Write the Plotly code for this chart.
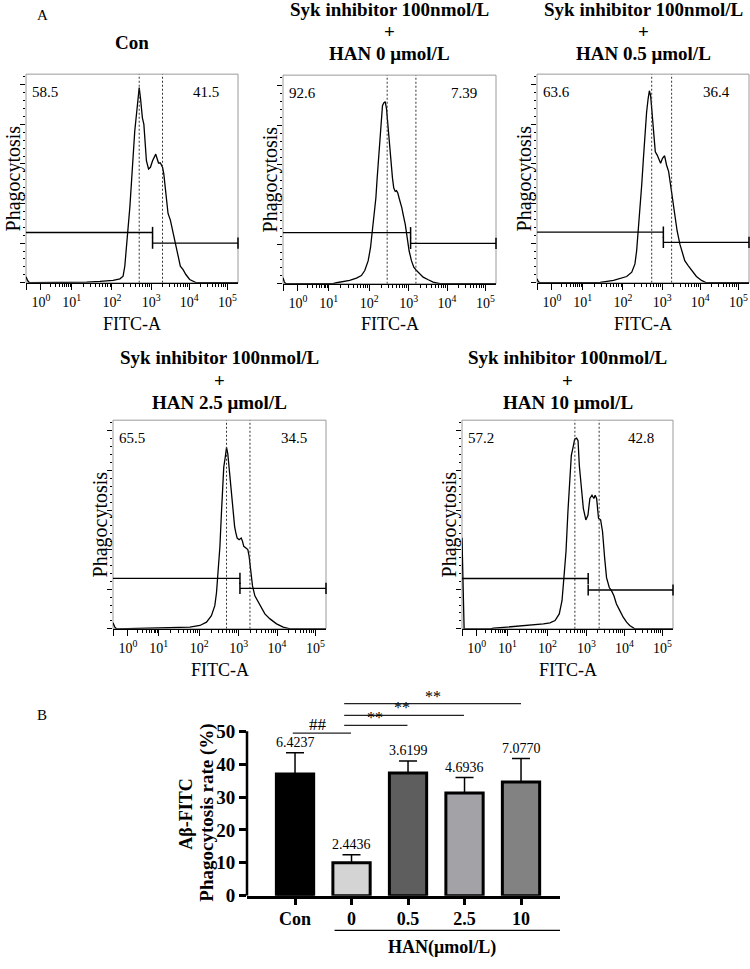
import math
import plotly.graph_objects as go

W, H = 750, 969
FONT = "Liberation Serif"

# ---------------- data: flow cytometry histograms ----------------
# FITC-A position expressed in display channels (0-1000, biexponential display)
decade_channel = [70, 215, 405, 590, 770, 950]
decade_label = ["10<sup>0</sup>", "10<sup>1</sup>", "10<sup>2</sup>",
                "10<sup>3</sup>", "10<sup>4</sup>", "10<sup>5</sup>"]

con_x = [0, 8, 16, 254, 286, 349, 411, 443, 458, 466, 474, 482, 490, 498, 505, 513, 521, 529, 534,
         540, 549, 556, 562, 568, 578, 587, 597, 606, 612, 619, 625, 634, 644, 650, 656, 662, 670,
         681, 694, 706, 719, 728, 741, 754, 772, 804, 1000]
con_y = [0.15, 0.05, 0, 0, 0.017, 0.033, 0.058, 0.1, 0.167, 0.417, 0.917, 1.333, 1.917, 2.583, 3.25,
         3.833, 4.25, 4.583, 4.933, 4.667, 4.167, 4.0, 3.583, 3.083, 2.875, 2.917, 3.083, 3.208, 3.25,
         3.125, 3.025, 3.025, 2.917, 2.75, 2.417, 2.083, 1.75, 1.583, 1.25, 0.917, 0.583, 0.417,
         0.333, 0.208, 0.083, 0, 0]

han0_x = [0, 6, 13, 235, 251, 313, 345, 368, 384, 400, 411, 420, 426, 436, 442, 448, 455, 461, 467,
          473, 480, 486, 492, 498, 505, 514, 520, 527, 533, 539, 545, 552, 558, 564, 574, 583, 592,
          603, 614, 627, 643, 658, 682, 705, 737, 1000]
han0_y = [0.15, 0.05, 0, 0, 0.025, 0.083, 0.142, 0.208, 0.333, 0.583, 0.917, 1.333, 1.667, 2.167,
          2.667, 3.167, 3.667, 4.167, 4.5, 4.567, 4.6, 4.417, 4.0, 3.583, 3.083, 2.667, 2.417, 2.333,
          2.35, 2.292, 2.167, 2.042, 1.917, 1.75, 1.5, 1.167, 0.833, 0.583, 0.417, 0.333, 0.25,
          0.167, 0.1, 0.042, 0, 0]

han05_x = [0, 6, 13, 298, 361, 392, 423, 447, 462, 470, 478, 486, 494, 502, 509, 517, 524, 530, 536,
           542, 549, 558, 567, 577, 583, 592, 602, 611, 621, 630, 639, 650, 661, 674, 687, 697, 713,
           729, 752, 776, 799, 1000]
han05_y = [0.1, 0.03, 0, 0.008, 0.058, 0.1, 0.158, 0.267, 0.475, 0.808, 1.308, 1.808, 2.475, 3.142,
           3.808, 4.308, 4.642, 4.85, 4.725, 4.392, 3.808, 3.308, 3.225, 3.1, 3.017, 3.142, 3.208,
           2.975, 2.808, 2.475, 2.142, 1.725, 1.308, 0.975, 0.725, 0.558, 0.433, 0.308, 0.158,
           0.058, 0, 0]

han25_x = [0, 8, 16, 266, 361, 408, 439, 462, 478, 486, 494, 502, 509, 514, 520, 527, 533, 539, 545,
           552, 558, 564, 571, 577, 583, 592, 602, 608, 614, 624, 633, 639, 646, 655, 666, 682, 697,
           713, 737, 768, 799, 831, 1000]
han25_y = [0.15, 0.05, 0, 0.017, 0.042, 0.083, 0.167, 0.333, 0.583, 0.917, 1.417, 2.083, 2.917,
           3.583, 4.083, 4.333, 4.583, 4.417, 4.083, 3.75, 3.25, 2.917, 2.583, 2.417, 2.292, 2.25,
           2.292, 2.208, 2.083, 2.042, 2.0, 1.833, 1.5, 1.083, 0.833, 0.667, 0.5, 0.375, 0.25,
           0.125, 0.042, 0, 0]

han10_x = [0, 4, 10, 134, 150, 213, 276, 323, 354, 386, 417, 441, 461, 474, 483, 493, 502, 512, 518,
           528, 534, 543, 550, 556, 565, 575, 587, 597, 606, 616, 625, 631, 638, 647, 657, 666, 676,
           685, 698, 709, 720, 732, 748, 764, 780, 795, 819, 1000]
han10_y = [2.3, 1.2, 0, 0, 0.017, 0.042, 0.067, 0.1, 0.1, 0.125, 0.15, 0.208, 0.375, 0.708, 1.292,
           1.958, 2.958, 3.958, 4.375, 4.625, 4.792, 4.817, 4.75, 4.125, 3.542, 3.042, 2.75, 2.875,
           3.292, 3.375, 3.292, 3.375, 3.292, 2.792, 2.75, 2.458, 1.792, 1.292, 1.042, 0.958, 0.833,
           0.625, 0.458, 0.292, 0.167, 0.083, 0, 0]

hist_x = [con_x, han0_x, han05_x, han25_x, han10_x]
hist_y = [con_y, han0_y, han05_y, han25_y, han10_y]
panel_titles = [["Con"],
                ["Syk inhibitor 100nmol/L", "+", "HAN 0 μmol/L"],
                ["Syk inhibitor 100nmol/L", "+", "HAN 0.5 μmol/L"],
                ["Syk inhibitor 100nmol/L", "+", "HAN 2.5 μmol/L"],
                ["Syk inhibitor 100nmol/L", "+", "HAN 10 μmol/L"]]
left_pct = ["58.5", "92.6", "63.6", "65.5", "57.2"]
right_pct = ["41.5", "7.39", "36.4", "34.5", "42.8"]
gate_split = [597, 599, 596, 596, 598]
gate_left_level = [1.27, 1.29, 1.28, 1.275, 1.27]
gate_right_level = [1.0, 1.02, 1.02, 1.02, 0.98]
marker_lines = [[534, 644], [489, 624], [541, 635], [533, 643], [535, 650]]
hist_ymax = 5.27
hist_yticks = [0, 1, 2, 3, 4, 5]

# ---------------- data: bar chart ----------------
bar_categories = ["Con", "0", "0.5", "2.5", "10"]
bar_means = [37.0, 10.0, 37.3, 31.2, 34.6]
bar_sd = [6.4237, 2.4436, 3.6199, 4.6936, 7.0770]
bar_sd_labels = ["6.4237", "2.4436", "3.6199", "4.6936", "7.0770"]
bar_yticks = [0, 10, 20, 30, 40, 50]
# significance brackets: (from category, to category, level, label)
sig_from = [-0.04, 0.87, 0.87, 0.87]
sig_to = [0.99, 1.99, 2.99, 4.0]
sig_level = [49.4, 51.8, 54.8, 58.4]
sig_text = ["##", "**", "**", "**"]
sig_text_x = [0.4, 1.42, 1.89, 2.45]

# ---------------- styles / layout ----------------
bar_colors = ["#000000", "#d4d4d4", "#5e5e5e", "#a2a2a7", "#828282"]
hist_frames = [(26, 238, 75, 286), (283, 496, 76, 287), (537, 749, 75, 286),
               (113, 326, 425, 636), (462, 673, 425, 636)]
title_rows = [[10, 32, 54], [362, 385, 407]]
con_title_y = 43
fitc_y = [328, 678]
bar_box = (247, 560, 703, 906)  # left, right, top(px of y=61), bottom (y=0)


def px_x(p):
    return p / W


def px_y(p):
    return 1 - p / H


fig = go.Figure()
annotations = []
shapes = []
layout_axes = {}

minor_x = []
for i in range(len(decade_channel) - 1):
    a, b = decade_channel[i], decade_channel[i + 1]
    for k in range(2, 10):
        minor_x.append(a + math.log10(k) * (b - a))

for p in range(5):
    n = "" if p == 0 else str(p + 1)
    xa, ya = "x" + n, "y" + n
    l, r, t, b = hist_frames[p]
    row = 0 if p < 3 else 1
    layout_axes["xaxis" + n] = dict(
        domain=[px_x(l), px_x(r)], anchor=ya, range=[0, 1000], showgrid=False, zeroline=False,
        showline=True, linecolor="black", linewidth=1, ticks="outside", ticklen=6, tickwidth=1,
        tickcolor="black", tickmode="array", tickvals=[0] + decade_channel, ticktext=[""] + decade_label,
        tickfont=dict(family=FONT, size=14, color="black"),
        minor=dict(tickmode="array", tickvals=minor_x, ticks="outside", ticklen=3, tickwidth=1,
                   tickcolor="black"),
        fixedrange=True)
    layout_axes["yaxis" + n] = dict(
        domain=[px_y(b), px_y(t)], anchor=xa, range=[0, hist_ymax], showgrid=False, zeroline=False,
        showline=False, ticks="outside", ticklen=5, tickwidth=1, tickcolor="black",
        tickmode="array", tickvals=hist_yticks, showticklabels=False,
        minor=dict(dtick=0.2, tick0=0, ticks="outside", ticklen=2.5, tickwidth=1, tickcolor="black"),
        fixedrange=True)
    # frame
    shapes.append(dict(type="rect", xref=xa + " domain", yref=ya + " domain", x0=0, x1=1, y0=0, y1=1,
                       line=dict(color="#9a9a9a", width=1), layer="below"))
    # histogram
    fig.add_trace(go.Scatter(x=hist_x[p], y=hist_y[p], mode="lines", xaxis=xa, yaxis=ya,
                             line=dict(color="black", width=1.3), showlegend=False, hoverinfo="skip"))
    # dotted marker lines
    for m in marker_lines[p]:
        fig.add_trace(go.Scatter(x=[m, m], y=[0, hist_ymax], mode="lines", xaxis=xa, yaxis=ya,
                                 line=dict(color="#333333", width=1, dash="2px,2px"),
                                 showlegend=False, hoverinfo="skip"))
    # gates
    s = gate_split[p]
    fig.add_trace(go.Scatter(x=[0, s], y=[gate_left_level[p]] * 2, mode="lines", xaxis=xa, yaxis=ya,
                             line=dict(color="black", width=1.3), showlegend=False, hoverinfo="skip"))
    fig.add_trace(go.Scatter(x=[s, 1000], y=[gate_right_level[p]] * 2, mode="lines", xaxis=xa, yaxis=ya,
                             line=dict(color="black", width=1.3), showlegend=False, hoverinfo="skip"))
    fig.add_trace(go.Scatter(x=[s, s, 1000], y=[gate_left_level[p], gate_right_level[p], gate_right_level[p]],
                             mode="markers", xaxis=xa, yaxis=ya, cliponaxis=False,
                             marker=dict(symbol="line-ns-open", size=8, color="black",
                                         line=dict(color="black", width=1.5)),
                             showlegend=False, hoverinfo="skip"))
    # percentages
    annotations.append(dict(x=20, y=4.83, xref=xa, yref=ya, text=left_pct[p], showarrow=False,
                            xanchor="left", yanchor="middle", font=dict(family=FONT, size=15, color="black")))
    annotations.append(dict(x=920, y=4.83, xref=xa, yref=ya, text=right_pct[p], showarrow=False,
                            xanchor="right", yanchor="middle", font=dict(family=FONT, size=15, color="black")))
    # titles
    cx = (l + r) / 2
    if p == 0:
        annotations.append(dict(x=px_x(cx), y=px_y(con_title_y), xref="paper", yref="paper",
                                text="<b>" + panel_titles[p][0] + "</b>", showarrow=False,
                                xanchor="center", yanchor="middle",
                                font=dict(family=FONT, size=19, color="black")))
    else:
        for line_txt, ly in zip(panel_titles[p], title_rows[row]):
            annotations.append(dict(x=px_x(cx), y=px_y(ly), xref="paper", yref="paper",
                                    text="<b>" + line_txt + "</b>", showarrow=False,
                                    xanchor="center", yanchor="middle",
                                    font=dict(family=FONT, size=19, color="black")))
    # axis titles
    annotations.append(dict(x=px_x(cx), y=px_y(fitc_y[row]), xref="paper", yref="paper", text="FITC-A",
                            showarrow=False, xanchor="center", yanchor="middle",
                            font=dict(family=FONT, size=18, color="black")))
    annotations.append(dict(x=px_x(l - 13), y=px_y((t + b) / 2), xref="paper", yref="paper",
                            text="Phagocytosis", textangle=-90, showarrow=False,
                            xanchor="center", yanchor="middle",
                            font=dict(family=FONT, size=20, color="black")))

# panel letters
annotations.append(dict(x=px_x(42), y=px_y(15), xref="paper", yref="paper", text="A", showarrow=False,
                        xanchor="center", yanchor="middle", font=dict(family=FONT, size=15, color="black")))
annotations.append(dict(x=px_x(42), y=px_y(723), xref="paper", yref="paper", text="B", showarrow=False,
                        xanchor="center", yanchor="middle", font=dict(family=FONT, size=15, color="black")))

# ---------------- bar chart ----------------
bl, br, bt, bb = bar_box
xpos = list(range(len(bar_categories)))
fig.add_trace(go.Bar(x=xpos, y=bar_means, xaxis="x6", yaxis="y6", width=0.66,
                     marker=dict(color=bar_colors, line=dict(color="black", width=3)),
                     error_y=dict(type="data", array=bar_sd, arrayminus=[0] * len(bar_sd), symmetric=False,
                                  color="black", thickness=1.5, width=9),
                     showlegend=False, hoverinfo="skip"))
layout_axes["xaxis6"] = dict(
    domain=[px_x(bl), px_x(br)], anchor="y6", range=[-0.85, 4.69], showgrid=False, zeroline=False,
    showline=True, linecolor="black", linewidth=2.5, ticks="outside", ticklen=7, tickwidth=2.5,
    tickcolor="black", tickmode="array", tickvals=xpos,
    ticktext=["<b>" + c + "</b>" for c in bar_categories],
    tickfont=dict(family=FONT, size=18, color="black"), ticklabelstandoff=-2, fixedrange=True)
layout_axes["yaxis6"] = dict(
    domain=[px_y(bb), px_y(bt)], anchor="x6", range=[0, 61], showgrid=False, zeroline=False,
    showline=False, ticks="outside", ticklen=7, tickwidth=2.5, tickcolor="black",
    tickmode="array", tickvals=bar_yticks, ticktext=["<b>%d</b>" % v for v in bar_yticks],
    tickfont=dict(family=FONT, size=19, color="black"), fixedrange=True)
shapes.append(dict(type="line", xref="x6 domain", yref="y6", x0=0, x1=0, y0=0, y1=50,
                   line=dict(color="black", width=2.5)))
for i in xpos:
    annotations.append(dict(x=i, y=bar_means[i] + bar_sd[i], xref="x6", yref="y6", text=bar_sd_labels[i],
                            showarrow=False, xanchor="center", yanchor="bottom", yshift=1,
                            font=dict(family=FONT, size=14, color="black")))
for a, b_, lv, tx, txx in zip(sig_from, sig_to, sig_level, sig_text, sig_text_x):
    shapes.append(dict(type="line", xref="x6", yref="y6", x0=a, x1=b_, y0=lv, y1=lv,
                       line=dict(color="#222222", width=1.2)))
    annotations.append(dict(x=txx, y=lv, xref="x6", yref="y6", text=tx, showarrow=False,
                            xanchor="center", yanchor="bottom", yshift=-3,
                            font=dict(family=FONT, size=17 if tx == "##" else 16, color="black")))
# HAN underline + label
shapes.append(dict(type="line", xref="x6", yref="paper", x0=0.7, x1=4.69, y0=px_y(941), y1=px_y(941),
                   line=dict(color="black", width=1.2)))
annotations.append(dict(x=2.6, y=px_y(958), xref="x6", yref="paper", text="<b>HAN(μmol/L)</b>",
                        showarrow=False, xanchor="center", yanchor="middle",
                        font=dict(family=FONT, size=18, color="black")))
annotations.append(dict(x=px_x(186), y=px_y(824), xref="paper", yref="paper", text="<b>Aβ-FITC</b>",
                        textangle=-90, showarrow=False, xanchor="center", yanchor="middle",
                        font=dict(family=FONT, size=18, color="black")))
annotations.append(dict(x=px_x(207), y=px_y(822), xref="paper", yref="paper",
                        text="<b>Phagocytosis rate (%)</b>", textangle=-90, showarrow=False,
                        xanchor="center", yanchor="middle", font=dict(family=FONT, size=19, color="black")))

fig.update_layout(width=W, height=H, margin=dict(l=0, r=0, t=0, b=0), paper_bgcolor="white",
                  plot_bgcolor="white", showlegend=False, annotations=annotations, shapes=shapes,
                  font=dict(family=FONT, color="black"), **layout_axes)
fig.write_html("out.html")
